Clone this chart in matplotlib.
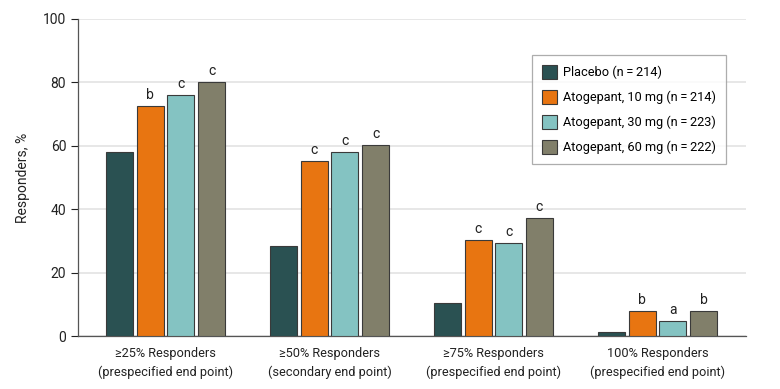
import matplotlib.pyplot as plt
import numpy as np

plt.rcParams['font.family'] = ['Roboto', 'DejaVu Sans']

categories = ['≥25% Responders\n(prespecified end point)',
              '≥50% Responders\n(secondary end point)',
              '≥75% Responders\n(prespecified end point)',
              '100% Responders\n(prespecified end point)']
series = ['Placebo (n\u2009=\u2009214)', 'Atogepant, 10 mg (n\u2009=\u2009214)',
          'Atogepant, 30 mg (n\u2009=\u2009223)', 'Atogepant, 60 mg (n\u2009=\u2009222)']
placebo = [58.1, 28.5, 10.4, 1.3]
atog_10 = [72.6, 55.2, 30.3, 7.9]
atog_30 = [76.1, 58.1, 29.3, 4.7]
atog_60 = [80.1, 60.2, 37.2, 7.9]
sig_10 = ['b', 'c', 'c', 'b']
sig_30 = ['c', 'c', 'c', 'a']
sig_60 = ['c', 'c', 'c', 'b']

colors = ['#2a5152', '#e87511', '#84c3c2', '#817f6a']
values = [placebo, atog_10, atog_30, atog_60]
sigs = [None, sig_10, sig_30, sig_60]

fig = plt.figure(figsize=(7.8, 3.89), dpi=100)
ax = fig.add_axes([78 / 780, 1 - 336 / 389, 668 / 780, 317 / 389])

x = np.arange(len(categories))
step = 0.187
width = 0.165
for i, (vals, col, lab) in enumerate(zip(values, colors, series)):
    pos = x + (i - 1.5) * step
    bars = ax.bar(pos, vals, width, color=col, edgecolor='#3a3a3a',
                  linewidth=0.8, label=lab, zorder=3)
    if sigs[i] is not None:
        for b, s in zip(bars, sigs[i]):
            ax.text(b.get_x() + b.get_width() / 2, b.get_height() + 1.2, s,
                    ha='center', va='bottom', fontsize=10, color='#222222')

ax.set_xlim(-0.534, 3.54)
ax.set_ylim(0, 100)
ax.set_yticks(range(0, 101, 20))
ax.yaxis.grid(True, color='#e3e3e3', linewidth=1.2, zorder=0)
ax.set_axisbelow(True)
ax.set_xticks(x)
ax.set_xticklabels(categories, fontsize=9.2, color='#222222', linespacing=1.5)
ax.tick_params(axis='x', length=0, pad=8)
ax.tick_params(axis='y', labelsize=10, colors='#222222', length=5,
               width=0.8, direction='out')
for s in ['top', 'right']:
    ax.spines[s].set_visible(False)
for s in ['left', 'bottom']:
    ax.spines[s].set_color('#555555')
    ax.spines[s].set_linewidth(0.9)
ax.set_ylabel('Responders, %', fontsize=10, color='#222222', labelpad=9)

leg = ax.legend(loc='upper right', bbox_to_anchor=(648 / 668, 1 - 36 / 317),
                borderaxespad=0, fontsize=9.2, frameon=True, fancybox=False,
                edgecolor='#999999', handlelength=1.2, handleheight=1.4,
                handletextpad=0.5, labelspacing=0.8, borderpad=0.75)
leg.get_frame().set_linewidth(0.9)

plt.savefig('out.png', dpi=100)
